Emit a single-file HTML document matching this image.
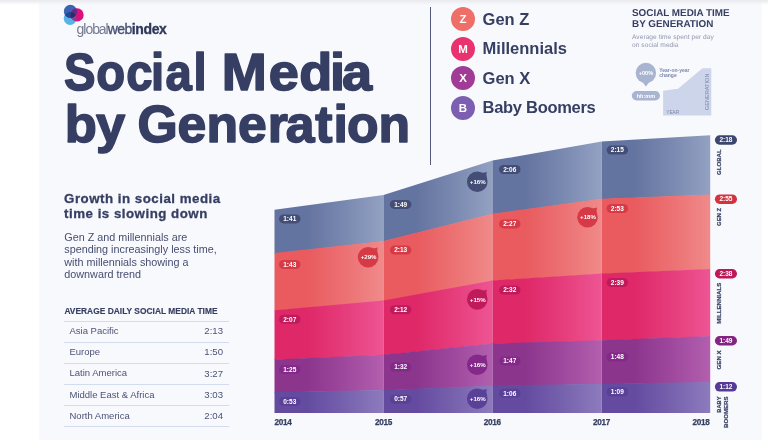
<!DOCTYPE html>
<html lang="en">
<head>
<meta charset="utf-8">
<title>Social Media by Generation</title>
<style>
html,body{margin:0;padding:0;background:#fff;}
body{width:768px;height:440px;overflow:hidden;position:relative;font-family:"Liberation Sans",sans-serif;color:#363f63;}
.panel{position:absolute;left:39.05px;top:0;width:722.8px;height:440px;background:#f8f9fd;}
.topshade{position:absolute;left:0;top:0;width:768px;height:5px;background:linear-gradient(#e9e9ee,rgba(240,240,244,0));}
.abs{position:absolute;white-space:nowrap;line-height:1;transform-origin:0 0;}
.chart{position:absolute;left:0;top:0;}
.chart text{font-family:"Liberation Sans",sans-serif;}
.pt{font-size:6.5px;font-weight:bold;fill:#fff;text-anchor:middle;}
.bt{font-size:6.1px;font-weight:bold;fill:#fff;text-anchor:middle;}
.vl{font-size:6px;font-weight:bold;fill:#363f63;stroke:#363f63;stroke-width:0.2px;}
.yl{font-size:8.2px;font-weight:bold;fill:#363f63;letter-spacing:-0.3px;stroke:#363f63;stroke-width:0.25px;}
.logo-t{left:76.6px;top:21.8px;font-size:14px;letter-spacing:-1.05px;color:#747a90;}
.logo-t b{color:#2f3759;letter-spacing:-0.4px;-webkit-text-stroke:0.3px #2f3759;}
.logo-t .w{color:#4a5172;letter-spacing:-0.5px;-webkit-text-stroke:0.35px #4a5172;}
.tw{font-size:52.5px;font-weight:bold;fill:#363f63;stroke:#363f63;stroke-width:1.6px;stroke-linejoin:round;}
.vline{position:absolute;left:430.05px;top:7.2px;width:1.45px;height:157.6px;background:#535a7c;}
.lg{position:absolute;left:451px;width:24px;height:24px;border-radius:50%;color:#fff;font-weight:bold;font-size:11.5px;line-height:24.6px;text-align:center;}
.lt{left:482.6px;font-size:16.5px;font-weight:bold;}
.h1{left:631.6px;font-size:9.9px;font-weight:bold;letter-spacing:0px;transform:rotate(0.03deg);}
.sub{left:631.6px;font-size:6.6px;color:#9297ad;letter-spacing:0.05px;transform:rotate(0.03deg);}
.gh{left:64.1px;font-size:13.3px;font-weight:bold;letter-spacing:0.5px;-webkit-text-stroke:0.3px #363f63;}
.gb{left:64.3px;font-size:10.8px;color:#464e71;}
.th{left:64.4px;top:306.9px;font-size:8.4px;font-weight:bold;letter-spacing:0.02px;-webkit-text-stroke:0.15px #363f63;}
.hr{position:absolute;left:64px;width:165.4px;height:1px;background:#d3dbef;}
.rl{left:69.5px;font-size:9.5px;color:#4b5376;}
.rv{left:193px;width:30px;text-align:right;font-size:9.6px;color:#4b5376;}
</style>
</head>
<body>
<div class="panel"></div>
<div class="topshade"></div>

<!-- logo -->
<svg class="chart" width="768" height="440" viewBox="0 0 768 440" style="mix-blend-mode:normal">
  <clipPath id="cb"><circle cx="70.4" cy="11.4" r="6.55"/></clipPath>
  <clipPath id="cm"><circle cx="77.1" cy="14.9" r="6.6"/></clipPath>
  <circle cx="70.1" cy="18.5" r="6.4" fill="#5ab3e4"/>
  <circle cx="70.4" cy="11.4" r="6.55" fill="#3b63ae"/>
  <circle cx="77.1" cy="14.9" r="6.6" fill="#da117d"/>
  <circle cx="70.1" cy="18.5" r="6.4" fill="#20479a" clip-path="url(#cb)"/>
  <circle cx="70.1" cy="18.5" r="6.4" fill="#8f3d9e" clip-path="url(#cm)"/>
  <circle cx="70.4" cy="11.4" r="6.55" fill="#5c2b8b" clip-path="url(#cm)"/>
  <g clip-path="url(#cb)"><circle cx="70.1" cy="18.5" r="6.4" fill="#20345a" clip-path="url(#cm)"/></g>
  <!-- mini legend -->
  <polygon points="663.1,115.4 663.1,90.8 678,88.7 702.4,68.3 711.3,68.3 711.3,115.4" fill="#cdd5ea"/>
  <circle cx="645.9" cy="73" r="10.2" fill="#a9b4d0"/>
  <path d="M642.4,82 L645.9,86.6 L649.4,82 Z" fill="#a9b4d0"/>
  <rect x="631.8" y="91" width="28.2" height="9.5" rx="4.75" fill="#a9b4d0"/>
  <text x="645.9" y="75" font-size="5.6" font-weight="bold" fill="#fff" text-anchor="middle">+00%</text>
  <text x="645.9" y="97.6" font-size="5.5" font-weight="bold" fill="#fff" text-anchor="middle">hh:mm</text>
  <text x="659.2" y="71.6" font-size="5" font-weight="bold" fill="#7c87ad">Year-on-year</text>
  <text x="659.2" y="77" font-size="5" font-weight="bold" fill="#7c87ad">change</text>
  <text x="666.3" y="113.8" font-size="4.7" fill="#7c87ad">YEAR</text>
  <text transform="translate(709,110.2) rotate(-90)" font-size="5.6" fill="#7c87ad" textLength="36.7" lengthAdjust="spacingAndGlyphs">GENERATION</text>
</svg>
<div class="abs logo-t">global<span class="w">web</span><b>index</b></div>

<svg class="chart" width="768" height="440" viewBox="0 0 768 440">
<text class="tw" transform="scale(0.9 1)" x="71.0 107.0 140.2 167.9 184.0 214.9" y="90.0">Social</text>
<text class="tw" transform="scale(1.03 1)" x="215.2 260.9 290.5 320.3 332.0" y="90.0">Media</text>
<text class="tw" transform="scale(1.0 1)" x="64.7 96.1" y="142.3">by</text>
<text class="tw" transform="scale(0.985 1)" x="139.6 180.2 209.6 241.7 271.8 290.0 320.1 338.5 352.3 384.2" y="142.3">Generation</text>
</svg>

<div class="vline"></div>
<div class="lg" style="top:7.2px;background:#ee6f68;">Z</div>
<div class="lg" style="top:36.7px;background:#e8336f;">M</div>
<div class="lg" style="top:66.2px;background:#a03c96;">X</div>
<div class="lg" style="top:95.7px;background:#7d5fb2;">B</div>
<div class="abs lt" style="top:10.9px;">Gen Z</div>
<div class="abs lt" style="top:40.4px;">Millennials</div>
<div class="abs lt" style="top:69.9px;">Gen X</div>
<div class="abs lt" style="top:99.4px;letter-spacing:-0.3px;">Baby Boomers</div>

<div class="abs h1" style="top:7.6px;">SOCIAL MEDIA TIME</div>
<div class="abs h1" style="top:18.6px;">BY GENERATION</div>
<div class="abs sub" style="top:34.3px;">Average time spent per day</div>
<div class="abs sub" style="top:42.0px;">on social media</div>

<div class="abs gh" style="top:191.9px;">Growth in social media</div>
<div class="abs gh" style="top:206.9px;">time is slowing down</div>
<div class="abs gb" style="top:231.5px;">Gen Z and millennials are</div>
<div class="abs gb" style="top:244.1px;">spending increasingly less time,</div>
<div class="abs gb" style="top:256.6px;">with millennials showing a</div>
<div class="abs gb" style="top:269.1px;">downward trend</div>

<div class="abs th">AVERAGE DAILY SOCIAL MEDIA TIME</div>
<div class="hr" style="top:320.7px;"></div>
<div class="hr" style="top:341.8px;"></div>
<div class="hr" style="top:362.8px;"></div>
<div class="hr" style="top:383.9px;"></div>
<div class="hr" style="top:405.0px;"></div>
<div class="hr" style="top:426.1px;"></div>
<div class="abs rl" style="top:326.2px;">Asia Pacific</div>
<div class="abs rl" style="top:347.3px;">Europe</div>
<div class="abs rl" style="top:368.4px;">Latin America</div>
<div class="abs rl" style="top:389.5px;">Middle East &amp; Africa</div>
<div class="abs rl" style="top:410.6px;">North America</div>
<div class="abs rv" style="top:326.3px;">2:13</div>
<div class="abs rv" style="top:347.4px;">1:50</div>
<div class="abs rv" style="top:368.5px;">3:27</div>
<div class="abs rv" style="top:389.6px;">3:03</div>
<div class="abs rv" style="top:410.7px;">2:04</div>

<svg class="chart" width="768" height="440" viewBox="0 0 768 440">
<defs>
<linearGradient id="g-global" x1="0" y1="0" x2="1" y2="0"><stop offset="0" stop-color="#6474a0"/><stop offset="0.3" stop-color="#6474a0"/><stop offset="0.65" stop-color="#7a89b0"/><stop offset="1" stop-color="#93a1c2"/></linearGradient>
<linearGradient id="g-genz" x1="0" y1="0" x2="1" y2="0"><stop offset="0" stop-color="#e95b5f"/><stop offset="0.3" stop-color="#e95b5f"/><stop offset="0.65" stop-color="#ec7173"/><stop offset="1" stop-color="#f08a8a"/></linearGradient>
<linearGradient id="g-mill" x1="0" y1="0" x2="1" y2="0"><stop offset="0" stop-color="#df2868"/><stop offset="0.3" stop-color="#df2868"/><stop offset="0.65" stop-color="#e63d7c"/><stop offset="1" stop-color="#ee5593"/></linearGradient>
<linearGradient id="g-genx" x1="0" y1="0" x2="1" y2="0"><stop offset="0" stop-color="#8c358d"/><stop offset="0.3" stop-color="#8c358d"/><stop offset="0.65" stop-color="#9e499d"/><stop offset="1" stop-color="#b35fae"/></linearGradient>
<linearGradient id="g-bb" x1="0" y1="0" x2="1" y2="0"><stop offset="0" stop-color="#644ba0"/><stop offset="0.3" stop-color="#644ba0"/><stop offset="0.65" stop-color="#7762ae"/><stop offset="1" stop-color="#8d7bbd"/></linearGradient>
</defs>
<polygon points="274.5,209.75 383.5,195.0 383.5,241.6 274.5,253.7" fill="url(#g-global)"/>
<polygon points="383.5,195.0 492.5,160.6 492.5,214.35 383.5,241.6" fill="url(#g-global)"/>
<polygon points="492.5,160.6 601.7,141.5 601.7,199.35 492.5,214.35" fill="url(#g-global)"/>
<polygon points="601.7,141.5 710.2,135.25 710.2,195.0 601.7,199.35" fill="url(#g-global)"/>
<polygon points="274.5,253.1 383.5,241.0 383.5,301.20000000000005 274.5,310.85" fill="url(#g-genz)"/>
<polygon points="383.5,241.0 492.5,213.75 492.5,281.0 383.5,301.20000000000005" fill="url(#g-genz)"/>
<polygon points="492.5,213.75 601.7,198.75 601.7,274.1 492.5,281.0" fill="url(#g-genz)"/>
<polygon points="601.7,198.75 710.2,194.4 710.2,269.6 601.7,274.1" fill="url(#g-genz)"/>
<polygon points="274.5,310.25 383.5,300.6 383.5,355.35 274.5,360.0" fill="url(#g-mill)"/>
<polygon points="383.5,300.6 492.5,280.4 492.5,344.1 383.5,355.35" fill="url(#g-mill)"/>
<polygon points="492.5,280.4 601.7,273.5 601.7,340.85 492.5,344.1" fill="url(#g-mill)"/>
<polygon points="601.7,273.5 710.2,269.0 710.2,336.6 601.7,340.85" fill="url(#g-mill)"/>
<polygon points="274.5,359.4 383.5,354.75 383.5,390.6 274.5,392.5" fill="url(#g-genx)"/>
<polygon points="383.5,354.75 492.5,343.5 492.5,386.20000000000005 383.5,390.6" fill="url(#g-genx)"/>
<polygon points="492.5,343.5 601.7,340.25 601.7,384.35 492.5,386.20000000000005" fill="url(#g-genx)"/>
<polygon points="601.7,340.25 710.2,336.0 710.2,382.70000000000005 601.7,384.35" fill="url(#g-genx)"/>
<polygon points="274.5,391.9 383.5,390.0 383.5,412.9 274.5,412.9" fill="url(#g-bb)"/>
<polygon points="383.5,390.0 492.5,385.6 492.5,412.9 383.5,412.9" fill="url(#g-bb)"/>
<polygon points="492.5,385.6 601.7,383.75 601.7,412.9 492.5,412.9" fill="url(#g-bb)"/>
<polygon points="601.7,383.75 710.2,382.1 710.2,412.9 601.7,412.9" fill="url(#g-bb)"/>
<g fill="#434d75"><circle cx="477.25" cy="181.7" r="10.3"/><path d="M481.65,172.40 Q484.45,173.20 486.75,171.70 Q485.75,174.70 487.15,178.90 Z"/></g>
<text x="477.75" y="183.79999999999998" class="bt">+16%</text>
<g fill="#d63a47"><circle cx="368.1" cy="257.25" r="10.3"/><path d="M372.50,247.95 Q375.30,248.75 377.60,247.25 Q376.60,250.25 378.00,254.45 Z"/></g>
<text x="368.6" y="259.35" class="bt">+29%</text>
<g fill="#d63a47"><circle cx="587.5" cy="217.25" r="10.3"/><path d="M591.90,207.95 Q594.70,208.75 597.00,207.25 Q596.00,210.25 597.40,214.45 Z"/></g>
<text x="588.0" y="219.35" class="bt">+18%</text>
<g fill="#c01a5c"><circle cx="477.25" cy="299.4" r="10.3"/><path d="M481.65,290.10 Q484.45,290.90 486.75,289.40 Q485.75,292.40 487.15,296.60 Z"/></g>
<text x="477.75" y="301.5" class="bt">+15%</text>
<g fill="#84298a"><circle cx="477.25" cy="364.75" r="10.3"/><path d="M481.65,355.45 Q484.45,356.25 486.75,354.75 Q485.75,357.75 487.15,361.95 Z"/></g>
<text x="477.75" y="366.85" class="bt">+16%</text>
<g fill="#5a4197"><circle cx="477.25" cy="398.75" r="10.3"/><path d="M481.65,389.45 Q484.45,390.25 486.75,388.75 Q485.75,391.75 487.15,395.95 Z"/></g>
<text x="477.75" y="400.85" class="bt">+16%</text>
<rect x="279.0" y="214.4" width="21.5" height="9" rx="4.5" fill="#434d75"/>
<text x="289.75" y="221.15" class="pt">1:41</text>
<rect x="389.9" y="199.9" width="21.5" height="9" rx="4.5" fill="#434d75"/>
<text x="400.65" y="206.65" class="pt">1:49</text>
<rect x="499.0" y="165.0" width="21.5" height="9" rx="4.5" fill="#434d75"/>
<text x="509.75" y="171.75" class="pt">2:06</text>
<rect x="606.6" y="145.6" width="21.5" height="9" rx="4.5" fill="#434d75"/>
<text x="617.35" y="152.35" class="pt">2:15</text>
<rect x="714.9" y="135.25" width="22.1" height="9.5" rx="4.75" fill="#3c4770"/>
<text x="725.9499999999999" y="142.3" class="pt">2:18</text>
<rect x="279.0" y="260.0" width="21.5" height="9" rx="4.5" fill="#d63a47"/>
<text x="289.75" y="266.75" class="pt">1:43</text>
<rect x="389.9" y="245.6" width="21.5" height="9" rx="4.5" fill="#d63a47"/>
<text x="400.65" y="252.35" class="pt">2:13</text>
<rect x="499.0" y="219.4" width="21.5" height="9" rx="4.5" fill="#d63a47"/>
<text x="509.75" y="226.15" class="pt">2:27</text>
<rect x="606.6" y="204.0" width="21.5" height="9" rx="4.5" fill="#d63a47"/>
<text x="617.35" y="210.75" class="pt">2:53</text>
<rect x="714.9" y="194.4" width="22.1" height="9.5" rx="4.75" fill="#d3333f"/>
<text x="725.9499999999999" y="201.45000000000002" class="pt">2:55</text>
<rect x="279.0" y="314.75" width="21.5" height="9" rx="4.5" fill="#c01a5c"/>
<text x="289.75" y="321.5" class="pt">2:07</text>
<rect x="389.9" y="305.25" width="21.5" height="9" rx="4.5" fill="#c01a5c"/>
<text x="400.65" y="312.0" class="pt">2:12</text>
<rect x="499.0" y="285.6" width="21.5" height="9" rx="4.5" fill="#c01a5c"/>
<text x="509.75" y="292.35" class="pt">2:32</text>
<rect x="606.6" y="278.1" width="21.5" height="9" rx="4.5" fill="#c01a5c"/>
<text x="617.35" y="284.85" class="pt">2:39</text>
<rect x="714.9" y="269.0" width="22.1" height="9.5" rx="4.75" fill="#bf1758"/>
<text x="725.9499999999999" y="276.05" class="pt">2:38</text>
<rect x="279.0" y="365.0" width="21.5" height="9" rx="4.5" fill="#84298a"/>
<text x="289.75" y="371.75" class="pt">1:25</text>
<rect x="389.9" y="362.5" width="21.5" height="9" rx="4.5" fill="#84298a"/>
<text x="400.65" y="369.25" class="pt">1:32</text>
<rect x="499.0" y="356.5" width="21.5" height="9" rx="4.5" fill="#84298a"/>
<text x="509.75" y="363.25" class="pt">1:47</text>
<rect x="606.6" y="352.5" width="21.5" height="9" rx="4.5" fill="#84298a"/>
<text x="617.35" y="359.25" class="pt">1:48</text>
<rect x="714.9" y="336.0" width="22.1" height="9.5" rx="4.75" fill="#842384"/>
<text x="725.9499999999999" y="343.05" class="pt">1:49</text>
<rect x="279.0" y="397.1" width="21.5" height="9" rx="4.5" fill="#5a4197"/>
<text x="289.75" y="403.85" class="pt">0:53</text>
<rect x="389.9" y="394.7" width="21.5" height="9" rx="4.5" fill="#5a4197"/>
<text x="400.65" y="401.45" class="pt">0:57</text>
<rect x="499.0" y="388.75" width="21.5" height="9" rx="4.5" fill="#5a4197"/>
<text x="509.75" y="395.5" class="pt">1:06</text>
<rect x="606.6" y="387.5" width="21.5" height="9" rx="4.5" fill="#5a4197"/>
<text x="617.35" y="394.25" class="pt">1:09</text>
<rect x="714.9" y="382.1" width="22.1" height="9.5" rx="4.75" fill="#573a96"/>
<text x="725.9499999999999" y="389.15000000000003" class="pt">1:12</text>
<text transform="translate(721.3,175.0) rotate(-90)" class="vl" textLength="25.6" lengthAdjust="spacingAndGlyphs">GLOBAL</text>
<text transform="translate(721.3,226.0) rotate(-90)" class="vl" textLength="18.2" lengthAdjust="spacingAndGlyphs">GEN Z</text>
<text transform="translate(721.3,323.75) rotate(-90)" class="vl" textLength="41.0" lengthAdjust="spacingAndGlyphs">MILLENNIALS</text>
<text transform="translate(721.3,369.4) rotate(-90)" class="vl" textLength="19.1" lengthAdjust="spacingAndGlyphs">GEN X</text>
<text transform="translate(721.3,412.75) rotate(-90)" class="vl" textLength="16.2" lengthAdjust="spacingAndGlyphs">BABY</text>
<text transform="translate(728.3,428.0) rotate(-90)" class="vl" textLength="31.5" lengthAdjust="spacingAndGlyphs">BOOMERS</text>
<text x="274.5" y="424.9" class="yl" text-anchor="start">2014</text>
<text x="383.5" y="424.9" class="yl" text-anchor="middle">2015</text>
<text x="492.3" y="424.9" class="yl" text-anchor="middle">2016</text>
<text x="601.5" y="424.9" class="yl" text-anchor="middle">2017</text>
<text x="709.6" y="424.9" class="yl" text-anchor="end">2018</text>
</svg>
</body>
</html>
